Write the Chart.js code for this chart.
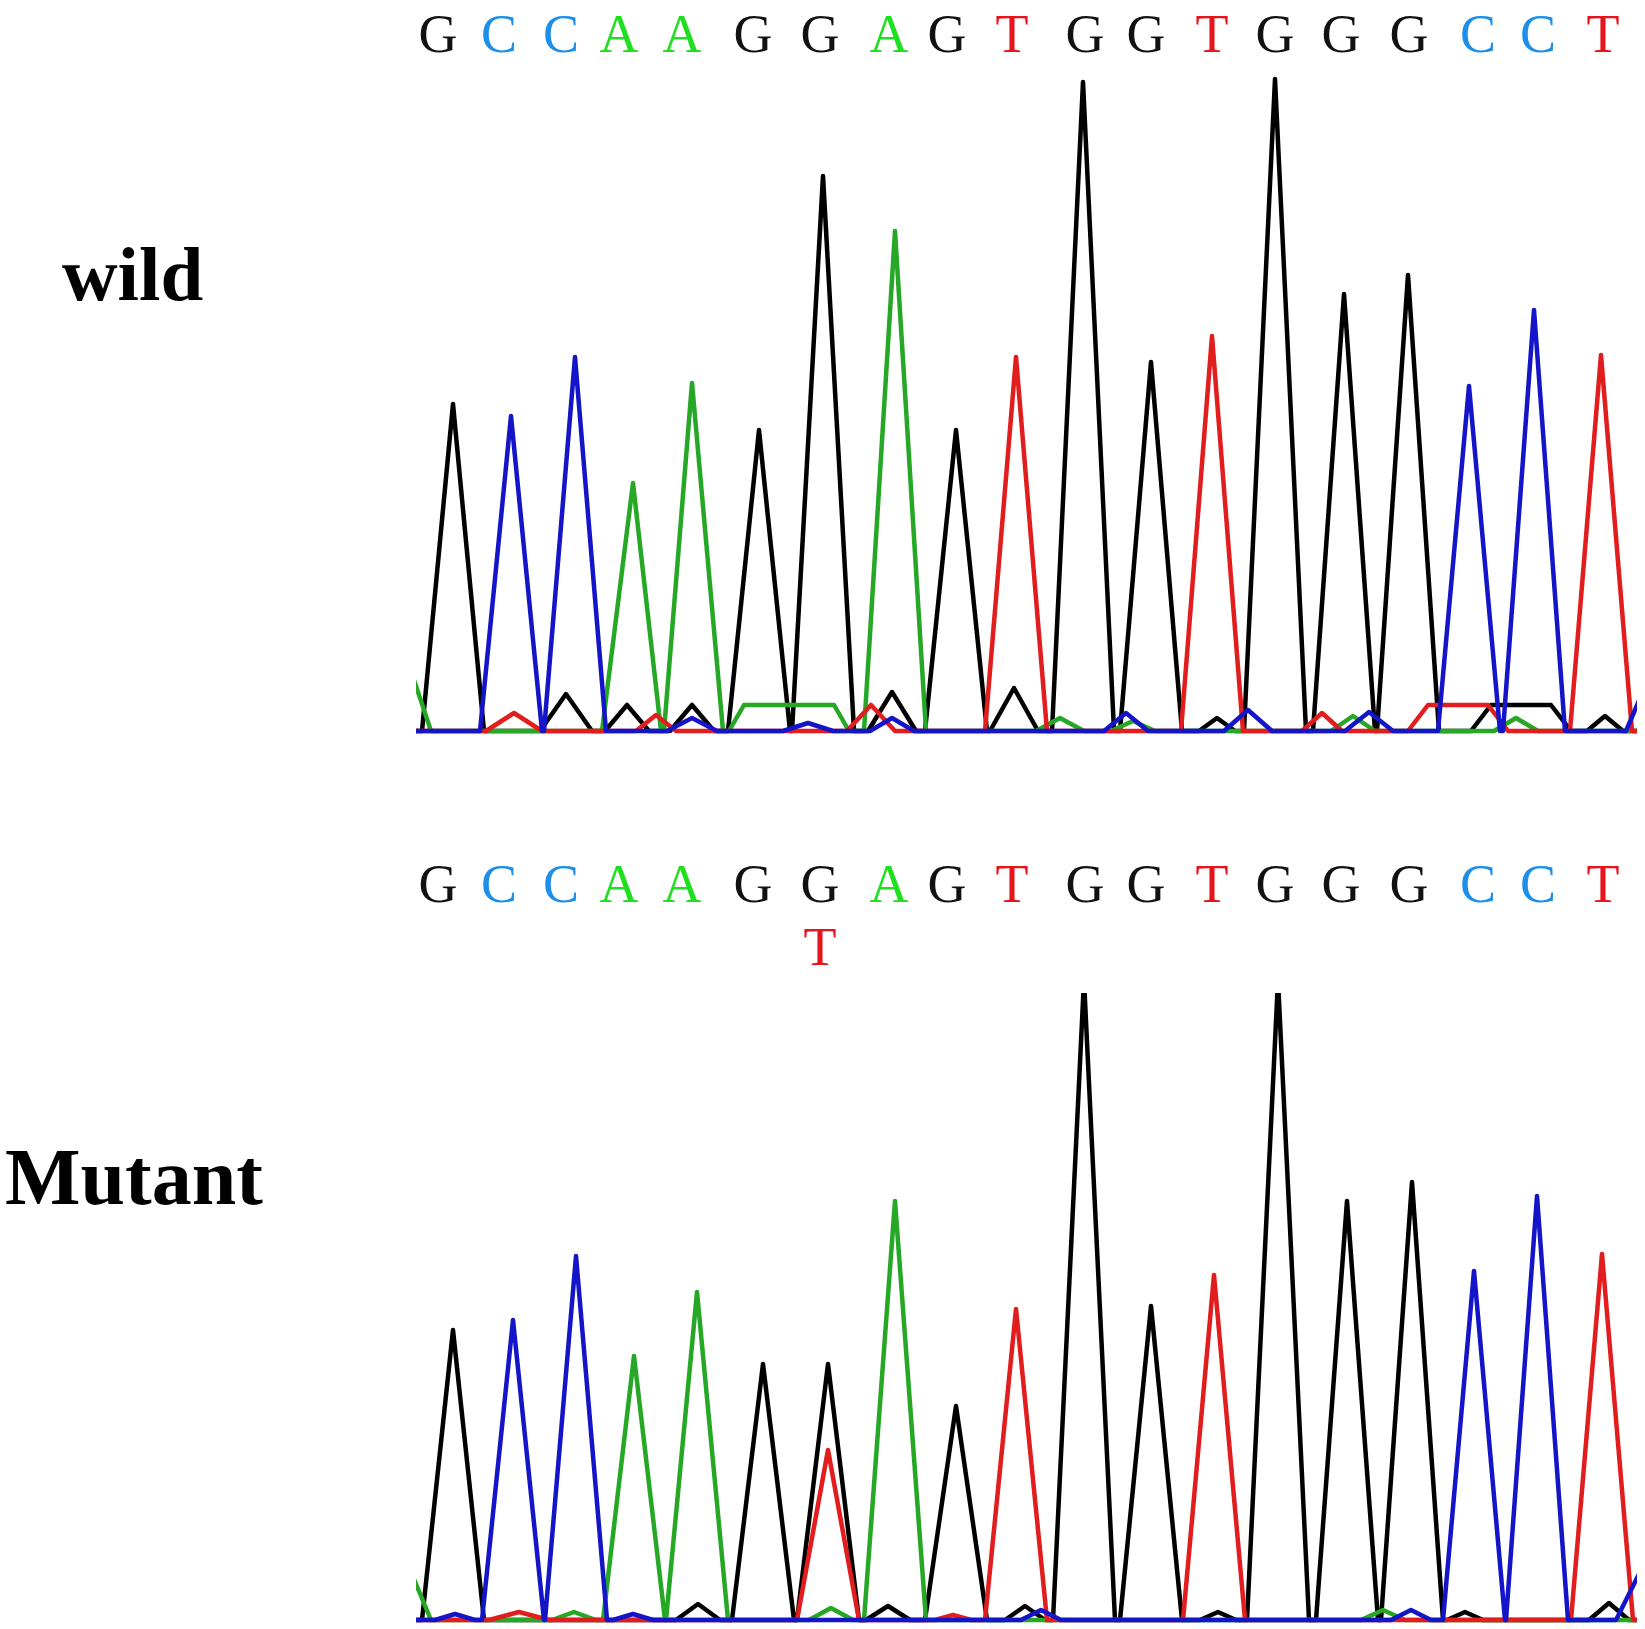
<!DOCTYPE html>
<html>
<head>
<meta charset="utf-8">
<script src="https://cdn.jsdelivr.net/npm/chart.js@4.4.1/dist/chart.umd.min.js"></script>
<style>
  html, body { margin: 0; padding: 0; background: #fff; }
  body { width: 1645px; height: 1629px; position: relative; overflow: hidden; }
  canvas { position: absolute; }
  .label {
    position: absolute;
    font-family: "Liberation Serif", "Times New Roman", serif;
    font-weight: bold;
    font-size: 77px;
    line-height: 77px;
    color: #000;
    white-space: nowrap;
  }
</style>
</head>
<body>
<div class="label" style="left:62px;top:236px">wild</div>
<div class="label" style="left:5px;top:1137px;font-size:80px;line-height:80px">Mutant</div>
<canvas id="wildChart" width="1245" height="760" style="left:400px;top:0px"></canvas>
<canvas id="mutantChart" width="1245" height="789" style="left:400px;top:840px"></canvas>
<script>
// base calls printed above the traces (same for both reads)
const calls = ['G','C','C','A','A','G','G','A','G','T','G','G','T','G','G','G','C','C','T'];
const callX = [22, 83, 145, 203, 266, 337, 404, 473, 531, 596, 669, 730, 796, 859, 925, 993, 1062, 1122, 1187];
// second call line in the mutant read (heterozygous G/T)
const mutantAltCalls = ['', '', '', '', '', '', 'T', '', '', '', '', '', '', '', '', '', '', '', ''];

// wild type trace: main peaks (one per call)
const wildPeakX = [37, 95, 159, 217, 276, 343, 407, 479, 540, 600, 667, 735, 796, 859, 928, 992, 1053, 1118, 1185];
const wildPeakH = [327, 315, 374, 248, 348, 301, 555, 500, 301, 374, 649, 369, 395, 652, 437, 456, 345, 421, 376];
// wild type trace: small background bumps
const wildMinorBase = ['G','G','G','G','G','G','G','G', 'T','T','T','T','T', 'C','C','C','C','C','C','C', 'A','A','A','A','A','A'];
const wildMinorX    = [150, 211, 276, 476, 598, 801, 1105, 1189, 98, 240, 455, 906, 1042, 276, 392, 476, 710, 832, 953, 1240, 373, 644, 717, 937, 1100, -15];
const wildMinorH    = [37, 26, 26, 39, 43, 13, 26, 15, 18, 16, 26, 18, 26, 13, 8, 13, 18, 21, 19, 70, 26, 13, 10, 15, 13, 90];
const wildMinorW    = [26, 22, 22, 24, 24, 18, 50, 18, 28, 20, 24, 20, 50, 25, 25, 22, 22, 24, 24, 30, 60, 24, 22, 22, 22, 30];
const wildMinorFlat = [0, 0, 0, 0, 0, 0, 30, 0, 0, 0, 0, 0, 30, 0, 0, 0, 0, 0, 0, 0, 45, 0, 0, 0, 0, 0];

// mutant trace: main peaks
const mutantPeakX = [37, 97, 160, 218, 281, 347, 412, 479, 540, 600, 668, 735, 798, 862, 931, 996, 1058, 1121, 1186];
const mutantPeakH = [290, 300, 364, 264, 328, 256, 256, 419, 214, 311, 640, 314, 345, 640, 419, 438, 349, 424, 366];
// mutant trace: the overlapping T peak
const mutantAltX = [412];
const mutantAltH = [170];
const mutantAltBase = ['T'];
// mutant trace: small background bumps
const mutantMinorBase = ['G','G','G','G','G','G', 'T','T', 'A','A','A','A', 'C','C','C','C','C'];
const mutantMinorX    = [282, 472, 609, 802, 1049, 1193, 103, 537, 158, 415, 967, -10, 39, 217, 625, 995, 1230];
const mutantMinorH    = [16, 14, 14, 8, 8, 17, 8, 5, 8, 12, 10, 60, 6, 6, 10, 10, 60];
const mutantMinorW    = [22, 22, 20, 18, 18, 20, 30, 18, 22, 22, 22, 25, 20, 20, 20, 20, 30];
const mutantMinorFlat = [0, 0, 0, 0, 0, 0, 0, 0, 0, 0, 0, 0, 0, 0, 0, 0, 0];

const traceColors = { G: '#000000', A: '#26a826', T: '#e11d1d', C: '#1414c8' };
const callColors = { G: '#111111', A: '#1fe01f', T: '#e8141c', C: '#1d8fe8' };
const drawOrder = ['C', 'T', 'A', 'G']; // first one ends up on top
const xMax = 1221;
const peakHalfWidth = 31;

function channelPoints(base, tr) {
    const pts = [{ x: -100, y: 0 }, { x: xMax + 100, y: 0 }];
    tr.peakX.forEach((x, i) => {
        if (tr.peakBase[i] !== base) return;
        pts.push({ x: x - peakHalfWidth, y: 0 }, { x: x, y: tr.peakH[i] }, { x: x + peakHalfWidth, y: 0 });
    });
    tr.minorX.forEach((x, i) => {
        if (tr.minorBase[i] !== base) return;
        const f = tr.minorFlat[i];
        pts.push({ x: x - tr.minorW[i], y: 0 });
        if (f > 0) {
            pts.push({ x: x - f, y: tr.minorH[i] }, { x: x + f, y: tr.minorH[i] });
        } else {
            pts.push({ x: x, y: tr.minorH[i] });
        }
        pts.push({ x: x + tr.minorW[i], y: 0 });
    });
    pts.sort((a, b) => a.x - b.x);
    return pts;
}

function lettersPlugin(rows) {
    return {
        id: 'callLetters',
        afterDraw(chart) {
            const ctx = chart.ctx;
            const xs = chart.scales.x;
            ctx.save();
            ctx.font = '54px "Liberation Serif", "Times New Roman", serif';
            ctx.textAlign = 'center';
            ctx.textBaseline = 'alphabetic';
            rows.forEach(row => {
                row.letters.forEach((b, i) => {
                    if (!b) return;
                    ctx.fillStyle = callColors[b];
                    ctx.fillText(b, xs.getPixelForValue(callX[i]), row.y);
                });
            });
            ctx.restore();
        }
    };
}

function makeTrace(canvasId, tr, yMax, padding, rows) {
    const datasets = drawOrder.map((b, k) => ({
        label: b,
        data: channelPoints(b, tr),
        borderColor: traceColors[b],
        borderWidth: 4.5,
        pointRadius: 0,
        tension: 0,
        borderJoinStyle: 'round',
        borderCapStyle: 'round',
        fill: false,
        order: k,
        clip: { left: 0, top: 0, right: 0, bottom: 4 }
    }));
    return new Chart(document.getElementById(canvasId).getContext('2d'), {
        type: 'line',
        data: { datasets: datasets },
        options: {
            responsive: false,
            animation: false,
            devicePixelRatio: 1,
            events: [],
            layout: { padding: padding },
            plugins: { legend: { display: false }, tooltip: { enabled: false } },
            scales: {
                x: { type: 'linear', min: 0, max: xMax, display: false },
                y: { min: 0, max: yMax, display: false }
            }
        },
        plugins: [lettersPlugin(rows)]
    });
}

makeTrace('wildChart', {
    peakX: wildPeakX, peakH: wildPeakH, peakBase: calls,
    minorX: wildMinorX, minorH: wildMinorH, minorW: wildMinorW, minorFlat: wildMinorFlat, minorBase: wildMinorBase
}, 656, { left: 16, right: 8, top: 75, bottom: 29 }, [
    { letters: calls, y: 52 }
]);

makeTrace('mutantChart', {
    peakX: mutantPeakX.concat(mutantAltX), peakH: mutantPeakH.concat(mutantAltH), peakBase: calls.concat(mutantAltBase),
    minorX: mutantMinorX, minorH: mutantMinorH, minorW: mutantMinorW, minorFlat: mutantMinorFlat, minorBase: mutantMinorBase
}, 627, { left: 16, right: 8, top: 153, bottom: 9 }, [
    { letters: calls, y: 62 },
    { letters: mutantAltCalls, y: 125 }
]);
</script>
</body>
</html>
